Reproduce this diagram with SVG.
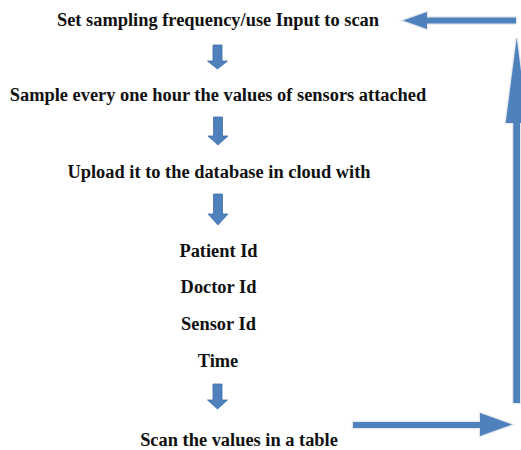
<svg xmlns="http://www.w3.org/2000/svg" width="521" height="450" viewBox="0 0 521 450">
<style>
.t{font-family:"Liberation Serif","Times New Roman",serif;font-weight:bold;font-size:18.4px;fill:#111;text-anchor:middle}
.a{fill:#4F81BD;stroke:#3F70AC;stroke-width:0.8}
.b{fill:#4F81BD;stroke:#E4E7EB;stroke-width:2.5;paint-order:stroke}
</style>
<rect width="521" height="450" fill="#fff"/>
<g id="n1"><text class="t" x="218" y="26">Set sampling frequency/use Input to scan</text></g>
<g id="n2"><text class="t" x="218" y="101">Sample every one hour the values of sensors attached</text></g>
<g id="n3"><text class="t" x="219" y="178">Upload it to the database in cloud with</text></g>
<g id="n4"><text class="t" x="218.5" y="257">Patient Id</text></g>
<g id="n5"><text class="t" x="218.5" y="293">Doctor Id</text></g>
<g id="n6"><text class="t" x="218.5" y="330">Sensor Id</text></g>
<g id="n7"><text class="t" x="218" y="367">Time</text></g>
<g id="n8"><text class="t" x="239" y="446">Scan the values in a table</text></g>
<g id="connectors">
<path class="a" d="M213,45 H222 V61 H227.5 L217.5,69 L207.5,61 H213 Z"/>
<path class="a" d="M213.5,117 H222.5 V136 H228 L218,145 L208,136 H213.5 Z"/>
<path class="a" d="M213.5,194 H222.5 V214 H228 L218,225 L208,214 H213.5 Z"/>
<path class="a" d="M213,384 H222 V400 H227.5 L217.5,409 L207.5,400 H213 Z"/>
<path class="b" d="M516,17.5 V23.5 H427 V29 L403,20.5 L427,12 V17.5 Z"/>
<path class="b" d="M513.3,403 V123 H505.7 L516.7,38 L527.7,123 H520 V403 Z"/>
<path class="b" d="M353,422 H480 V413 L512,424.5 L480,436 V428 H353 Z"/>
</g>
</svg>
